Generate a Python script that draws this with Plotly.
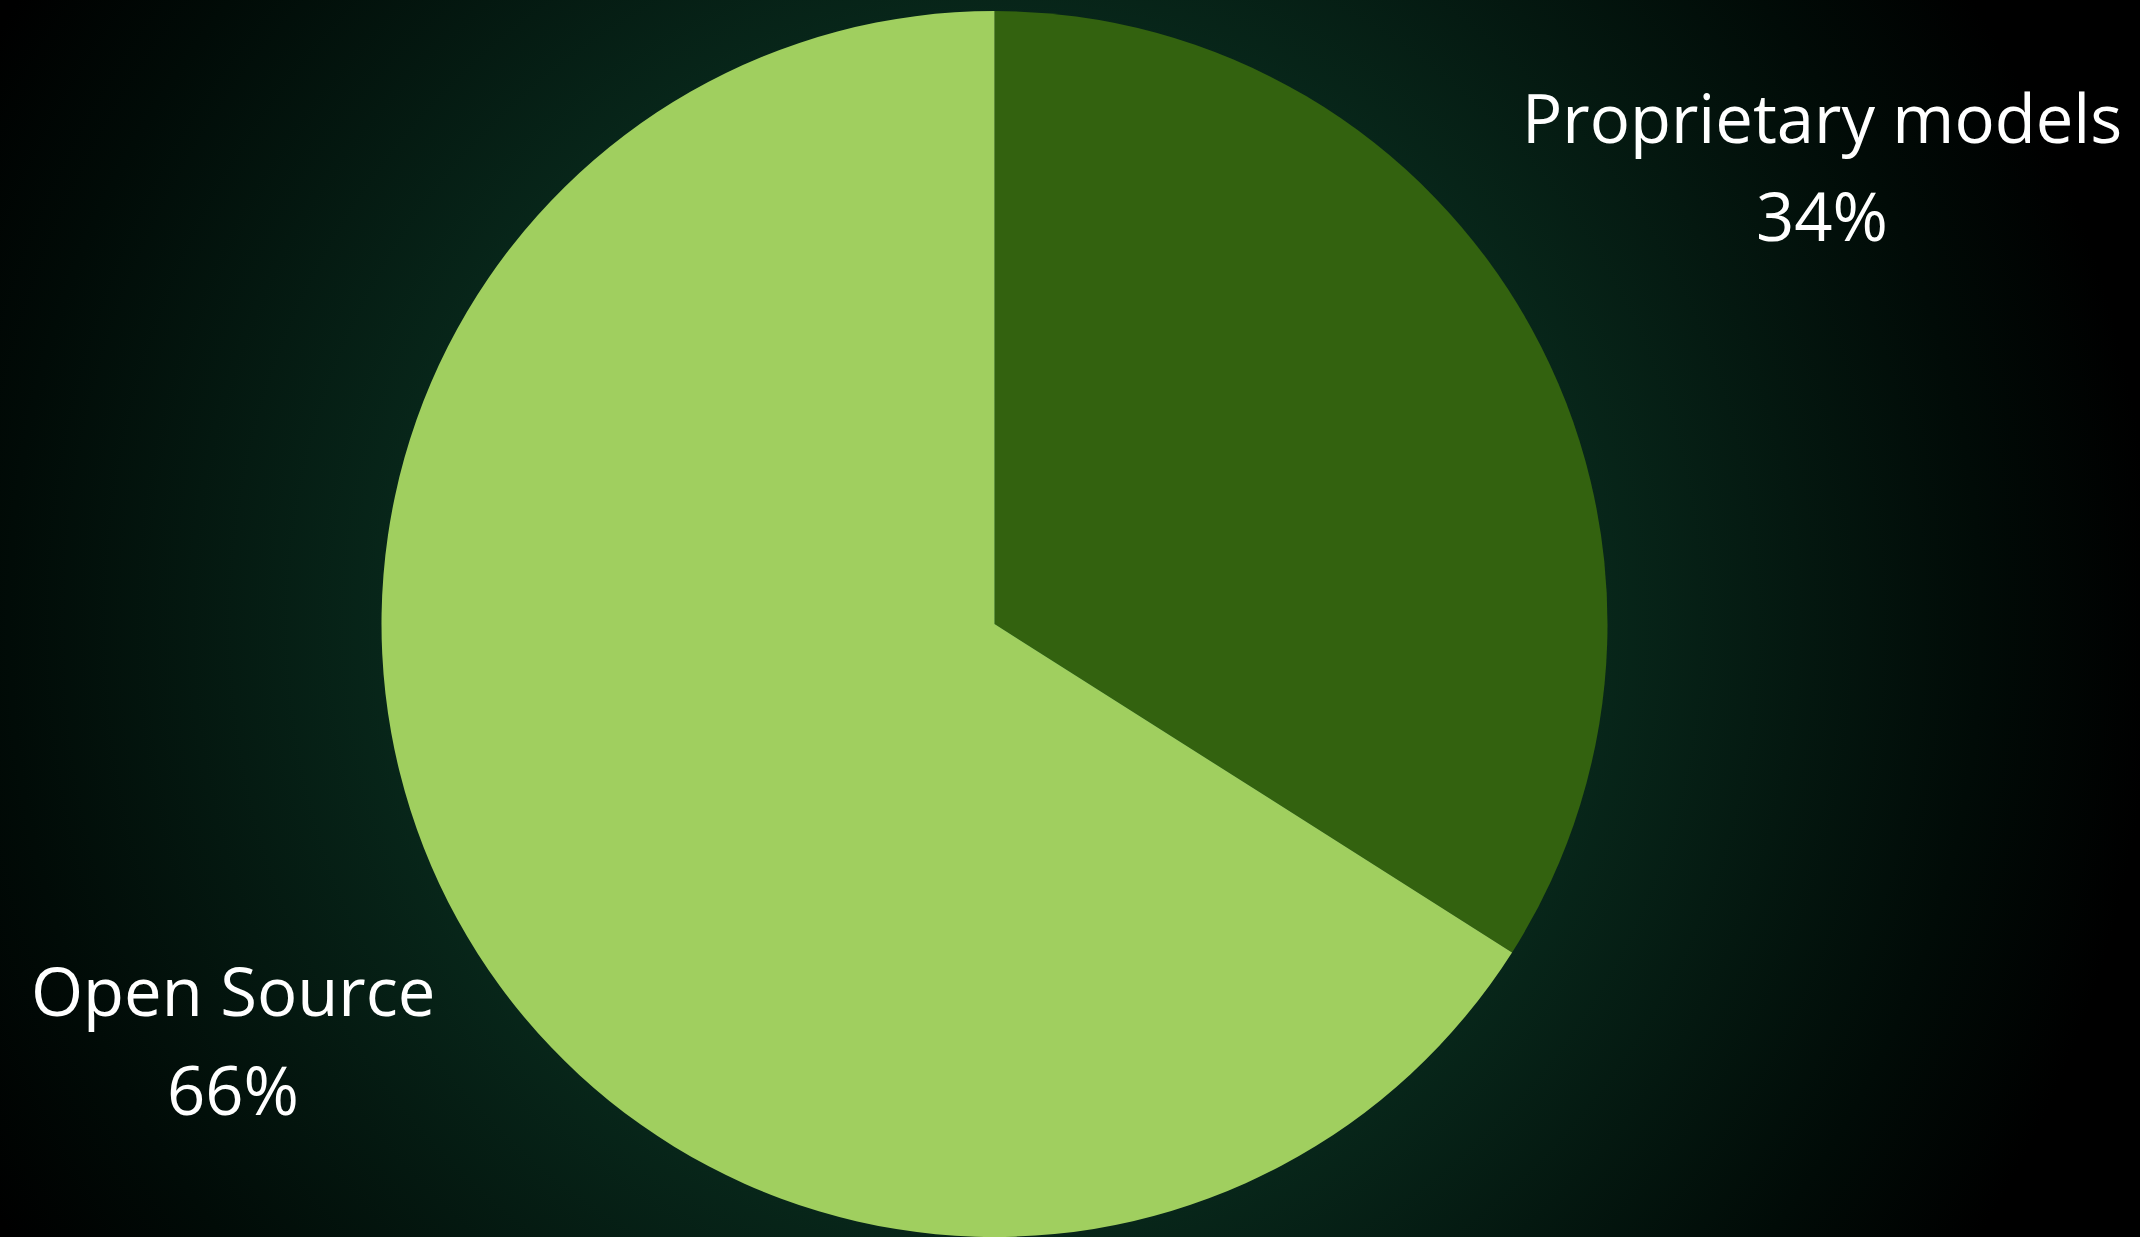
import base64
import plotly.graph_objects as go

# Share of models by licence type
categories = ["Proprietary models", "Open Source"]
shares = [34, 66]
slice_colors = ["#33620F", "#A0CF5F"]

W, H = 2140, 1237

# Dark radial glow behind the pie
bg_svg = f"""<svg xmlns='http://www.w3.org/2000/svg' width='{W}' height='{H}' viewBox='0 0 {W} {H}' preserveAspectRatio='none'>
<defs><radialGradient id='g' gradientUnits='userSpaceOnUse' cx='995' cy='624' r='1160'>
<stop offset='0' stop-color='#115236'/>
<stop offset='0.5' stop-color='#08281b'/>
<stop offset='0.85' stop-color='#010b07'/>
<stop offset='1' stop-color='#000000'/>
</radialGradient></defs>
<rect width='{W}' height='{H}' fill='url(#g)'/></svg>"""
bg_uri = "data:image/svg+xml;base64," + base64.b64encode(bg_svg.encode()).decode()

# Pie geometry in pixels
cx, cy, r = 994.5, 624, 613


def clamp(v):
    return min(1.0, max(0.0, v))


fig = go.Figure(
    go.Pie(
        labels=categories,
        values=shares,
        sort=False,
        direction="clockwise",
        rotation=0,
        marker=dict(colors=slice_colors, line=dict(width=0)),
        textinfo="none",
        hoverinfo="label+percent",
        showlegend=False,
        domain=dict(
            x=[clamp((cx - r) / W), clamp((cx + r) / W)],
            y=[clamp((H - (cy + r)) / H), clamp((H - (cy - r)) / H)],
        ),
    )
)

font = dict(family="Open Sans, sans-serif", size=67, color="#FFFFFF", weight=500)

# Label positions (centre x, middle y of each text line, in pixels)
label_pos = {
    "Proprietary models": (1822, 117, 215),
    "Open Source": (233, 990, 1089),
}

annotations = []
for name, value in zip(categories, shares):
    x, y1, y2 = label_pos[name]
    for text, y in ((name, y1), (f"{value}%", y2)):
        annotations.append(
            dict(
                text=text,
                x=x / W,
                y=1 - y / H,
                xref="paper",
                yref="paper",
                xanchor="center",
                yanchor="middle",
                showarrow=False,
                font=font,
            )
        )

fig.update_layout(
    width=W,
    height=H,
    margin=dict(l=0, r=0, t=0, b=0),
    paper_bgcolor="#000000",
    plot_bgcolor="#000000",
    annotations=annotations,
    images=[
        dict(
            source=bg_uri,
            xref="paper",
            yref="paper",
            x=0,
            y=1,
            sizex=1,
            sizey=1,
            sizing="stretch",
            xanchor="left",
            yanchor="top",
            layer="below",
        )
    ],
)

fig.write_html("out.html", config={"displayModeBar": False})
